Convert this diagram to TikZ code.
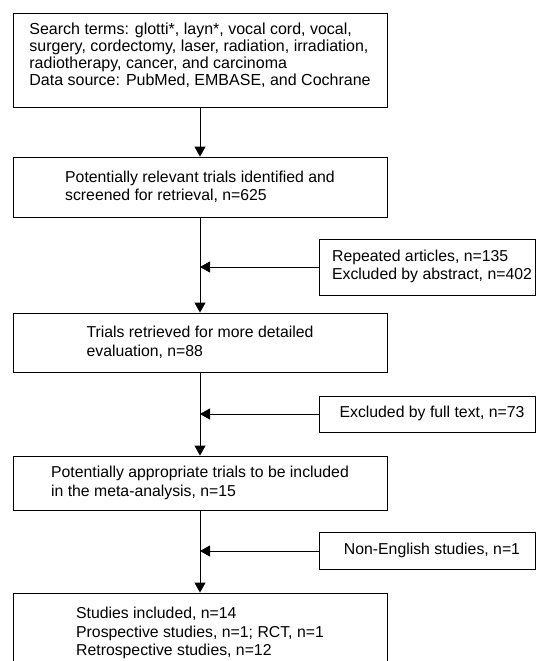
\documentclass[tikz,border=0pt]{standalone}
\usepackage{fontspec}
\setmainfont{Liberation Sans}
\usetikzlibrary{arrows.meta}
\usetikzlibrary{shapes}
\newcommand{\sideLines}[1]{\begin{tabular}{@{\hspace{10pt}}l@{}}#1\end{tabular}}

\begin{document}
\begin{tikzpicture}[x = 1pt, y = -1pt, font=\fontsize{15.8}{18.5}\selectfont]
	\tikzstyle{mainStyle}=[shape = rectangle, draw, line width = 0.9pt, align = left, minimum width = 374pt, inner sep = 0pt]
	\tikzstyle{sideStyle}=[shape = rectangle, draw, line width = 0.9pt, minimum width = 216pt, inner sep = 0pt]
	\tikzstyle{flowStyle}=[line width = 0.9pt, -{Triangle[length = 10pt, width = 11pt]}]
	\clip (0,0) rectangle (536,661);
	\node[mainStyle, minimum height = 94pt, font = \fontsize{16}{17}\selectfont] (search) at (200,60) {\begin{tabular}{@{}l@{}}Search terms: glotti*, layn*, vocal cord, vocal,\\surgery, cordectomy, laser, radiation, irradiation,\\radiotherapy, cancer, and carcinoma\\Data source: PubMed, EMBASE, and Cochrane\\[6pt]\end{tabular}};
	\node[mainStyle, minimum height = 60pt] (screened) at (200,187) {Potentially relevant trials identified and\\screened for retrieval, n=625};
	\node[mainStyle, minimum height = 59pt] (retrieved) at (200,342.5) {Trials retrieved for more detailed\\evaluation, n=88};
	\node[mainStyle, minimum height = 54pt] (appropriate) at (200,483) {Potentially appropriate trials to be included\\in the meta-analysis, n=15};
	\node[mainStyle, minimum height = 80pt] (included) at (200,633) {Studies included, n=14\\Prospective studies, n=1; RCT, n=1\\Retrospective studies, n=12};
	\node[sideStyle, minimum height = 56pt] (repeated) at (427,267) {\sideLines{Repeated articles, n=135\\Excluded by abstract, n=402}};
	\node[sideStyle, minimum height = 36pt] (fulltext) at (427,414) {\sideLines{Excluded by full text, n=73}};
	\node[sideStyle, minimum height = 37pt] (nonenglish) at (427,551) {\sideLines{Non-English studies, n=1}};
	\draw[flowStyle] (search) -- (screened);
	\draw[flowStyle] (screened) -- (retrieved);
	\draw[flowStyle] (retrieved) -- (appropriate);
	\draw[flowStyle] (appropriate) -- (included);
	\draw[flowStyle] (repeated.west) -- (repeated.west -| screened.south);
	\draw[flowStyle] (fulltext.west) -- (fulltext.west -| retrieved.south);
	\draw[flowStyle] (nonenglish.west) -- (nonenglish.west -| appropriate.south);
\end{tikzpicture}
\end{document}
